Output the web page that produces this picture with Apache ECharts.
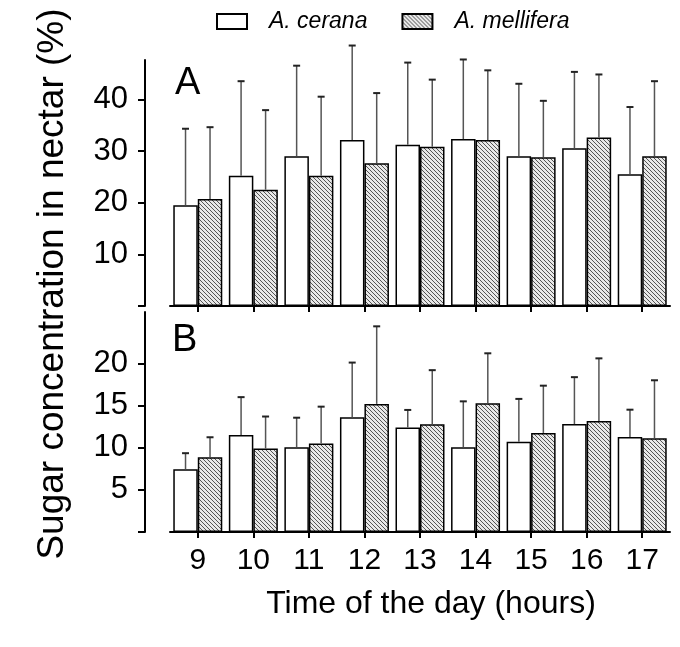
<!DOCTYPE html>
<html>
<head>
<meta charset="utf-8">
<script src="https://cdn.jsdelivr.net/npm/echarts@6/dist/echarts.min.js"></script>
<style>
html,body{margin:0;padding:0;background:#fff;}
#chart{width:680px;height:647px;}
</style>
</head>
<body>
<div id="chart"></div>
<script>
// ---- data ----
var hours = ['9','10','11','12','13','14','15','16','17'];
var seriesNames = ['A. cerana', 'A. mellifera'];
// Panel A
var aCeranaMean = [19.5, 25.2, 29.0, 32.1, 31.2, 32.3, 29.0, 30.5, 25.5];
var aCeranaSD   = [14.8, 18.3, 17.5, 18.3, 15.9, 15.4, 14.0, 14.8, 13.0];
var aMelliferaMean = [20.7, 22.5, 25.2, 27.6, 30.8, 32.1, 28.8, 32.6, 29.0];
var aMelliferaSD   = [13.9, 15.4, 15.3, 13.6, 13.0, 13.5, 10.9, 12.2, 14.5];
// Panel B
var bCeranaMean = [7.45, 11.5, 10.06, 13.6, 12.4, 10.06, 10.7, 12.8, 11.26];
var bCeranaSD   = [1.9, 4.5, 3.5, 6.5, 2.08, 5.44, 5.09, 5.57, 3.25];
var bMelliferaMean = [8.87, 9.9, 10.5, 15.2, 12.78, 15.27, 11.75, 13.17, 11.12];
var bMelliferaSD   = [2.37, 3.8, 4.37, 9.2, 6.42, 5.93, 5.61, 7.43, 6.88];
// axis ticks
var aTicks = [0, 10, 20, 30, 40];
var aLabels = [10, 20, 30, 40];
var bTicks = [0, 5, 10, 15, 20];
var bLabels = [5, 10, 15, 20];
var panelLabels = ['A', 'B'];
var yTitle = 'Sugar concentration in nectar (%)';
var xTitle = 'Time of the day (hours)';

// ---- styles ----
var FONT = '"Liberation Sans", Arial, sans-serif';
var BAR_W = 24.5;

function hatch() {
  var c = document.createElement('canvas');
  c.width = 4; c.height = 4;
  var g = c.getContext('2d');
  g.fillStyle = '#e8e8e8';
  g.fillRect(0, 0, 4, 4);
  g.strokeStyle = '#555';
  g.lineWidth = 1;
  g.beginPath();
  g.moveTo(0, 0); g.lineTo(4, 4);
  g.moveTo(-1, 3); g.lineTo(1, 5);
  g.moveTo(3, -1); g.lineTo(5, 1);
  g.stroke();
  return c;
}
var hatchFill = { image: hatch(), repeat: 'repeat' };

function zip(m, s) { return m.map(function (v, i) { return [i, v, s[i]]; }); }

function errSeries(gridIdx, mean, sd, off) {
  return {
    type: 'custom',
    xAxisIndex: gridIdx, yAxisIndex: gridIdx,
    clip: false, z: 5, silent: true,
    data: zip(mean, sd),
    encode: { x: 0, y: 1 },
    renderItem: function (params, api) {
      var i = api.value(0), m = api.value(1), s = api.value(2);
      var base = api.coord([i, m]);
      var top = api.coord([i, m + s]);
      var x = base[0] + off;
      return {
        type: 'group',
        children: [
          { type: 'line', shape: { x1: x, y1: base[1], x2: x, y2: top[1] }, style: { stroke: '#555', lineWidth: 1.5 } },
          { type: 'line', shape: { x1: x - 3.5, y1: top[1], x2: x + 3.5, y2: top[1] }, style: { stroke: '#222', lineWidth: 2 } }
        ]
      };
    }
  };
}

function barSeries(gridIdx, name, data, fill) {
  return {
    type: 'bar', name: name,
    xAxisIndex: gridIdx, yAxisIndex: gridIdx,
    data: data, barWidth: BAR_W, barGap: '0%',
    itemStyle: { color: fill, borderColor: '#000', borderWidth: 1.5 },
    emphasis: { disabled: true }
  };
}

var axisLine = { show: true, lineStyle: { color: '#000', width: 2 } };

function xAxis(gridIdx, showLabels) {
  return {
    type: 'category', gridIndex: gridIdx, data: hours,
    axisLine: axisLine,
    axisTick: { show: true, alignWithLabel: true, length: 6, lineStyle: { color: '#000', width: 2 } },
    axisLabel: { show: showLabels, color: '#000', fontFamily: FONT, fontSize: 30, margin: 14 },
    splitLine: { show: false }
  };
}
function yAxis(gridIdx, max, ticks, labels) {
  return {
    type: 'value', gridIndex: gridIdx, min: 0, max: max, offset: 25,
    axisLine: axisLine,
    axisTick: { show: true, length: 7, customValues: ticks, lineStyle: { color: '#000', width: 2 } },
    axisLabel: { color: '#000', fontFamily: FONT, fontSize: 31, margin: 17, customValues: labels },
    splitLine: { show: false }
  };
}

var chart = echarts.init(document.getElementById('chart'), null, { renderer: 'canvas' });
chart.setOption({
  animation: false,
  backgroundColor: '#fff',
  legend: {
    data: seriesNames,
    top: 10, left: 216, padding: 0,
    itemWidth: 30, itemHeight: 15, itemGap: 34,
    icon: 'rect',
    itemStyle: { borderColor: '#000', borderWidth: 2 },
    textStyle: { fontFamily: FONT, fontSize: 23, fontStyle: 'italic', color: '#000', padding: [0, 0, 0, 17] },
    selectedMode: false
  },
  grid: [
    { left: 170, right: 10, top: 60, height: 246 },
    { left: 170, right: 10, top: 312, height: 220 }
  ],
  xAxis: [xAxis(0, false), xAxis(1, true)],
  yAxis: [yAxis(0, 47.6, aTicks, aLabels), yAxis(1, 26.1, bTicks, bLabels)],
  series: [
    barSeries(0, seriesNames[0], aCeranaMean, '#fff'),
    barSeries(0, seriesNames[1], aMelliferaMean, hatchFill),
    barSeries(1, seriesNames[0], bCeranaMean, '#fff'),
    barSeries(1, seriesNames[1], bMelliferaMean, hatchFill),
    errSeries(0, aCeranaMean, aCeranaSD, -BAR_W / 2),
    errSeries(0, aMelliferaMean, aMelliferaSD, BAR_W / 2),
    errSeries(1, bCeranaMean, bCeranaSD, -BAR_W / 2),
    errSeries(1, bMelliferaMean, bMelliferaSD, BAR_W / 2)
  ],
  graphic: [
    { type: 'text', left: 175, top: 84 - 19, style: { text: panelLabels[0], font: '38px ' + FONT, fill: '#000', textVerticalAlign: 'top' } },
    { type: 'text', left: 172, top: 341 - 19, style: { text: panelLabels[1], font: '38px ' + FONT, fill: '#000', textVerticalAlign: 'top' } },
    { type: 'text', x: 53, y: 284, rotation: Math.PI / 2, style: { text: yTitle, font: '37px ' + FONT, fill: '#000', align: 'center', verticalAlign: 'middle' } },
    { type: 'text', x: 431, y: 604, style: { text: xTitle, font: '32px ' + FONT, fill: '#000', align: 'center', verticalAlign: 'middle' } }
  ]
});
</script>
</body>
</html>
